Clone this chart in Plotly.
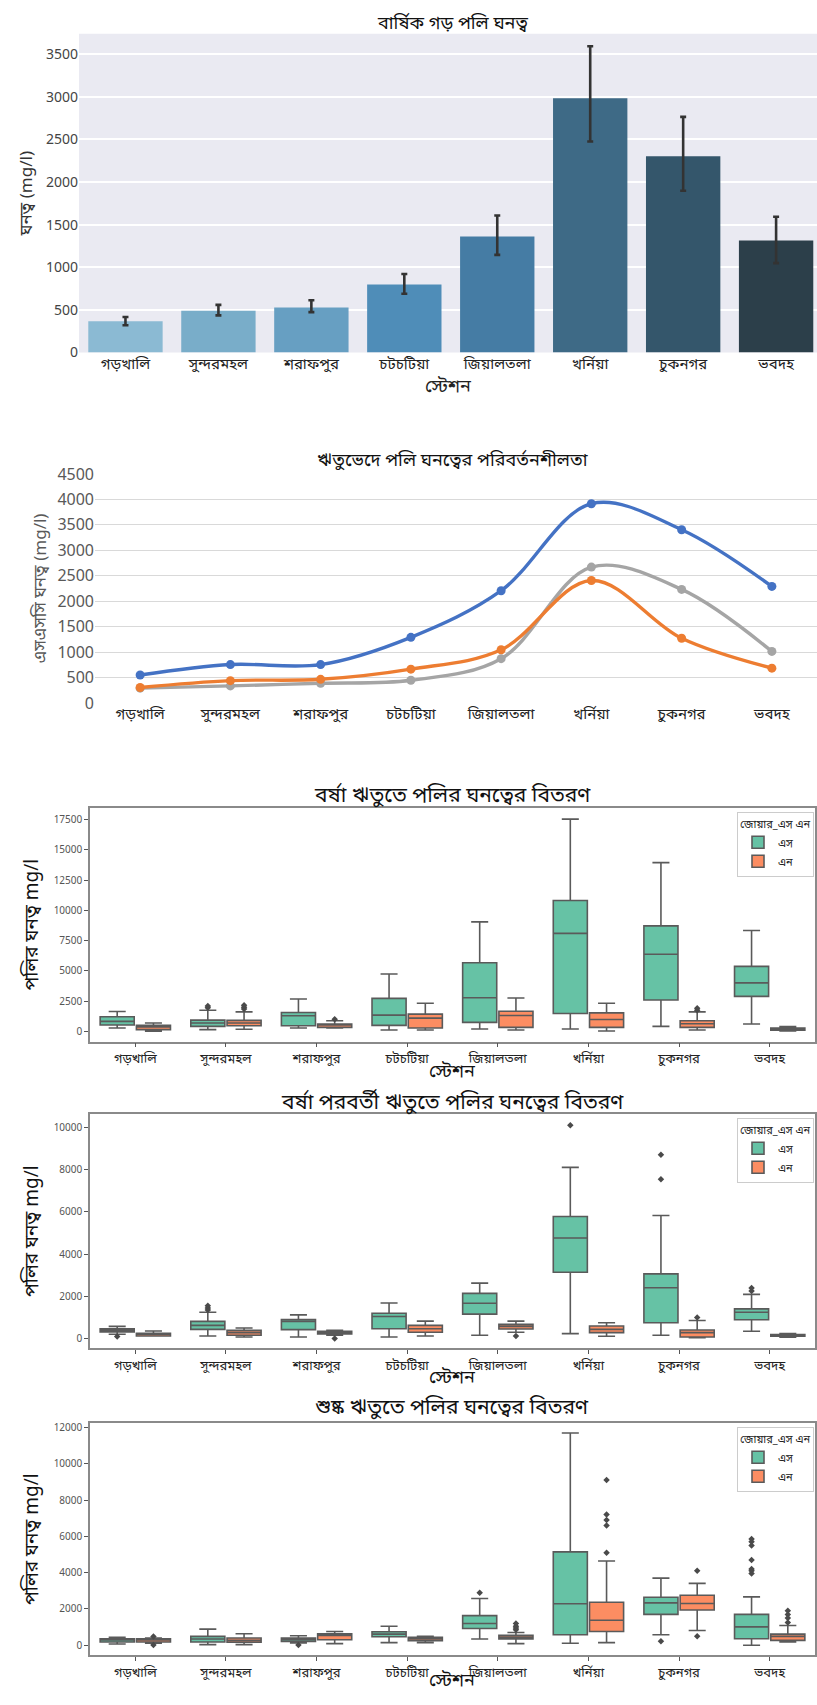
import plotly.graph_objects as go

# ---------------- DATA ----------------
stations = ["গড়খালি", "সুন্দরমহল", "শরাফপুর", "চটচটিয়া", "জিয়ালতলা", "খর্নিয়া", "চুকনগর", "ভবদহ"]

# Panel 1: annual mean with error bounds
annual_mean = [366, 490, 528, 798, 1361, 2984, 2301, 1315]
annual_hi = [416, 559, 613, 921, 1608, 3593, 2764, 1592]
annual_lo = [320, 436, 474, 690, 1145, 2475, 1897, 1049]
bar_colors = ["#8bbad3", "#79adc9", "#679fc2", "#4f8db8", "#457ca4", "#3e6a86", "#34566b", "#2c3f4a"]

# Panel 2: seasonal means
season_blue = [548, 754, 754, 1289, 2205, 3914, 3404, 2289]
season_orange = [303, 438, 464, 664, 1044, 2405, 1270, 683]
season_gray = [290, 335, 387, 445, 870, 2669, 2231, 1012]

# Panel 3: monsoon box stats (S / N)
m_s_lo = [273, 136, 273, 109, 191, 191, 409, 600]
m_s_q1 = [518, 409, 463, 490, 736, 1472, 2589, 2889]
m_s_med = [818, 681, 1281, 1335, 2780, 8095, 6378, 4006]
m_s_q3 = [1199, 927, 1554, 2725, 5669, 10820, 8722, 5369]
m_s_hi = [1635, 1744, 2671, 4742, 9049, 17552, 13955, 8340]
m_n_lo = [0, 164, 273, 109, 109, 27, 109, 27]
m_n_q1 = [136, 463, 327, 273, 327, 327, 327, 82]
m_n_med = [354, 681, 518, 1090, 1308, 981, 627, 164]
m_n_q3 = [490, 899, 600, 1417, 1663, 1526, 872, 273]
m_n_hi = [681, 1608, 872, 2317, 2753, 2317, 1608, 382]
m_s_out_x = ["সুন্দরমহল", "সুন্দরমহল"]
m_s_out_y = [1950, 2100]
m_n_out_x = ["সুন্দরমহল", "সুন্দরমহল", "সুন্দরমহল", "শরাফপুর", "চুকনগর", "চুকনগর"]
m_n_out_y = [1850, 1980, 2150, 1000, 1750, 1900]

# Panel 4: post-monsoon box stats
p_s_lo = [203, 125, 78, 78, 156, 234, 156, 344]
p_s_q1 = [313, 438, 422, 469, 1156, 3141, 750, 891]
p_s_med = [391, 625, 813, 1047, 1672, 4766, 2406, 1250]
p_s_q3 = [469, 813, 906, 1203, 2141, 5781, 3063, 1406]
p_s_hi = [578, 1250, 1125, 1688, 2625, 8109, 5828, 2094]
p_n_lo = [125, 78, 156, 125, 300, 109, 47, 63]
p_n_q1 = [125, 156, 219, 297, 453, 281, 78, 109]
p_n_med = [203, 281, 281, 469, 578, 438, 281, 156]
p_n_q3 = [250, 391, 344, 625, 672, 594, 406, 188]
p_n_hi = [359, 500, 391, 828, 828, 750, 859, 234]
p_s_out_x = ["গড়খালি", "সুন্দরমহল", "সুন্দরমহল", "সুন্দরমহল", "খর্নিয়া", "চুকনগর", "চুকনগর", "ভবদহ", "ভবদহ"]
p_s_out_y = [100, 1350, 1450, 1550, 10100, 8700, 7550, 2250, 2400]
p_n_out_x = ["শরাফপুর", "জিয়ালতলা", "চুকনগর"]
p_n_out_y = [0, 120, 1000]

# Panel 5: dry season box stats
d_s_lo = [73, 36, 127, 145, 344, 109, 580, 0]
d_s_q1 = [181, 181, 217, 471, 924, 580, 1704, 363]
d_s_med = [290, 344, 326, 616, 1196, 2284, 2338, 1015]
d_s_q3 = [363, 489, 399, 743, 1631, 5148, 2646, 1704]
d_s_hi = [435, 888, 526, 1051, 2574, 11691, 3698, 2664]
d_n_lo = [109, 36, 91, 145, 91, 145, 816, 181]
d_n_q1 = [181, 163, 308, 254, 344, 761, 1940, 272]
d_n_med = [290, 272, 544, 363, 435, 1378, 2302, 489]
d_n_q3 = [363, 399, 634, 435, 544, 2374, 2755, 616]
d_n_hi = [399, 634, 761, 489, 707, 4640, 3408, 1088]
d_s_out_x = ["শরাফপুর", "জিয়ালতলা", "চুকনগর", "ভবদহ", "ভবদহ", "ভবদহ", "ভবদহ", "ভবদহ", "ভবদহ", "ভবদহ"]
d_s_out_y = [20, 2900, 220, 5500, 5700, 5850, 4700, 3950, 4100, 4200]
d_n_out_x = ["গড়খালি", "গড়খালি", "জিয়ালতলা", "জিয়ালতলা", "জিয়ালতলা", "জিয়ালতলা",
             "খর্নিয়া", "খর্নিয়া", "খর্নিয়া", "খর্নিয়া", "খর্নিয়া",
             "চুকনগর", "চুকনগর", "ভবদহ", "ভবদহ", "ভবদহ", "ভবদহ"]
d_n_out_y = [480, 20, 1200, 1050, 950, 850, 9100, 7200, 6900, 6600, 5100, 4100, 500, 1900, 1700, 1500, 1250]

legend_title = "জোয়ার_এস এন"
hue_s, hue_n = "এস", "এন"
x_title = "স্টেশন"

# ---------------- STYLE ----------------
W, H = 817, 1705
FONT = "Noto Sans Bengali, Lohit Bengali, Noto Sans, DejaVu Sans, sans-serif"
C_S, C_N = "#66c2a5", "#fc8d62"
BOXLINE = "#5a5a5a"


def yd(top, bottom):
    return [1 - bottom / H, 1 - top / H]


fig = go.Figure()

# Panel 1: bar chart
fig.add_trace(go.Bar(
    x=stations, y=annual_mean, marker=dict(color=bar_colors, line=dict(width=0)),
    error_y=dict(type="data", symmetric=False,
                 array=[h - m for h, m in zip(annual_hi, annual_mean)],
                 arrayminus=[m - l for l, m in zip(annual_lo, annual_mean)],
                 color="#333333", thickness=2.6, width=3),
    xaxis="x", yaxis="y", showlegend=False))

# Panel 2: lines
for vals, col in [(season_blue, "#4472c4"), (season_gray, "#a5a5a5"), (season_orange, "#ed7d31")]:
    fig.add_trace(go.Scatter(
        x=stations, y=vals, mode="lines+markers",
        line=dict(color=col, width=3.4, shape="spline", smoothing=1.0),
        marker=dict(color=col, size=9), offsetgroup="line",
        xaxis="x2", yaxis="y2", showlegend=False))

# Box panels
panels = [
    ("x3", "y3", "legend", (m_s_lo, m_s_q1, m_s_med, m_s_q3, m_s_hi), (m_n_lo, m_n_q1, m_n_med, m_n_q3, m_n_hi),
     (m_s_out_x, m_s_out_y), (m_n_out_x, m_n_out_y)),
    ("x4", "y4", "legend2", (p_s_lo, p_s_q1, p_s_med, p_s_q3, p_s_hi), (p_n_lo, p_n_q1, p_n_med, p_n_q3, p_n_hi),
     (p_s_out_x, p_s_out_y), (p_n_out_x, p_n_out_y)),
    ("x5", "y5", "legend3", (d_s_lo, d_s_q1, d_s_med, d_s_q3, d_s_hi), (d_n_lo, d_n_q1, d_n_med, d_n_q3, d_n_hi),
     (d_s_out_x, d_s_out_y), (d_n_out_x, d_n_out_y)),
]
for xa, ya, lg, s_stats, n_stats, s_out, n_out in panels:
    for name, stats, col, grp in [(hue_s, s_stats, C_S, "S"), (hue_n, n_stats, C_N, "N")]:
        lo, q1, med, q3, hi = stats
        fig.add_trace(go.Box(
            x=stations, lowerfence=lo, q1=q1, median=med, q3=q3, upperfence=hi,
            name=name, fillcolor=col, line=dict(color=BOXLINE, width=1.6),
            boxpoints=False, whiskerwidth=0.5, offsetgroup=grp,
            xaxis=xa, yaxis=ya, legend=lg, hoverinfo="y"))
    for (ox, oy), grp in [(s_out, "S"), (n_out, "N")]:
        fig.add_trace(go.Scatter(
            x=ox, y=oy, mode="markers", offsetgroup=grp,
            marker=dict(symbol="diamond", size=5, color="#4a4a4a"),
            xaxis=xa, yaxis=ya, showlegend=False))

# ---------------- LAYOUT ----------------
tickfont_small = dict(size=10, color="#555555", family=FONT)
layout = dict(
    width=W, height=H, margin=dict(l=0, r=0, t=0, b=0),
    paper_bgcolor="white", plot_bgcolor="white",
    font=dict(family=FONT, color="#222222"),
    bargap=0.2, boxmode="group", boxgap=0.2, boxgroupgap=0.06,
    scattermode="group", scattergap=0.2,
    # panel 1
    xaxis=dict(domain=[79 / W, 1], anchor="y", range=[-0.5, 7.44], showgrid=False, zeroline=False,
               ticks="", tickfont=dict(size=15, color="#222"),
               title=dict(text=x_title, font=dict(size=18, color="#222"), standoff=2)),
    yaxis=dict(domain=yd(25, 348), anchor="x", range=[0, 3740], tickvals=[0, 500, 1000, 1500, 2000, 2500, 3000, 3500],
               gridcolor="white", gridwidth=1.5, zeroline=False, ticks="", tickfont=dict(size=14, color="#444"),
               title=dict(text="ঘনত্ব (mg/l)", font=dict(size=17, color="#333"), standoff=8)),
    # panel 2
    xaxis2=dict(domain=[95 / W, 1], anchor="y2", range=[-0.5, 7.5], showgrid=False, zeroline=False, showline=False,
                ticks="", tickfont=dict(size=15, color="#222")),
    yaxis2=dict(domain=yd(471, 703), anchor="x2", range=[0, 4500], dtick=500, gridcolor="#d9d9d9", gridwidth=1.2,
                zeroline=False, ticks="", tickfont=dict(size=16, color="#595959"),
                title=dict(text="এসএসসি ঘনত্ব (mg/l)", font=dict(size=17, color="#595959"), standoff=6)),
)
for i, (top, bot, rng, tv) in enumerate([
        (809, 1046, [-845, 18506], [0, 2500, 5000, 7500, 10000, 12500, 15000, 17500]),
        (1119, 1357, [-469, 10656], [0, 2000, 4000, 6000, 8000, 10000]),
        (1432, 1668, [-562, 12272], [0, 2000, 4000, 6000, 8000, 10000, 12000])], start=3):
    layout[f"xaxis{i}"] = dict(domain=[90 / W, 815 / W], anchor=f"y{i}", range=[-0.5, 7.5], showgrid=False,
                               zeroline=False, showline=True, mirror=True, linecolor="#8a8a8a", linewidth=1.5,
                               ticks="outside", ticklen=4, tickcolor="#555", tickfont=dict(size=13, color="#222"))
    layout[f"yaxis{i}"] = dict(domain=yd(top, bot), anchor=f"x{i}", range=rng, tickvals=tv, tickformat="d",
                               showgrid=False, zeroline=False, showline=True, mirror=True, linecolor="#8a8a8a",
                               linewidth=1.5, ticks="outside", ticklen=4, tickcolor="#555", tickfont=tickfont_small,
                               title=dict(text="পলির ঘনত্ব mg/l", font=dict(size=19, color="#111"), standoff=10))

for k, top in [("legend", 814), ("legend2", 1124), ("legend3", 1437)]:
    layout[k] = dict(x=814 / W, xanchor="right", y=1 - top / H, yanchor="top", bgcolor="rgba(255,255,255,0.9)",
                     bordercolor="#cccccc", borderwidth=1, font=dict(size=11, color="#222"),
                     title=dict(text=legend_title, font=dict(size=11, color="#222")),
                     tracegroupgap=0, itemwidth=30)

fig.update_layout(**layout)

# seaborn darkgrid background for panel 1
fig.add_shape(type="rect", xref="x domain", yref="y domain", x0=0, x1=1, y0=0, y1=1,
              fillcolor="#eaeaf2", line=dict(width=0), layer="below")

titles = [
    ("বার্ষিক গড় পলি ঘনত্ব", 15, 18),
    ("ঋতুভেদে পলি ঘনত্বের পরিবর্তনশীলতা", 458, 18),
    ("বর্ষা ঋতুতে পলির ঘনত্বের বিতরণ", 798, 21),
    ("বর্ষা পরবর্তী ঋতুতে পলির ঘনত্বের বিতরণ", 1108, 21),
    ("শুষ্ক ঋতুতে পলির ঘনত্বের বিতরণ", 1418, 21),
]
for txt, yc, fs in titles:
    fig.add_annotation(text=txt, xref="paper", yref="paper", x=452 / W, y=1 - yc / H, xanchor="center",
                       yanchor="middle", showarrow=False, font=dict(size=fs, color="#111", family=FONT))

# x-axis titles of the box panels
for yc in [1077, 1387, 1694]:
    fig.add_annotation(text=x_title, xref="paper", yref="paper", x=452 / W, y=1 - yc / H, xanchor="center",
                       yanchor="middle", showarrow=False, font=dict(size=18, color="#111", family=FONT))

fig.write_html("out.html", config={"displayModeBar": False},
               post_script="document.body.style.margin='0';document.body.style.overflow='hidden';")
